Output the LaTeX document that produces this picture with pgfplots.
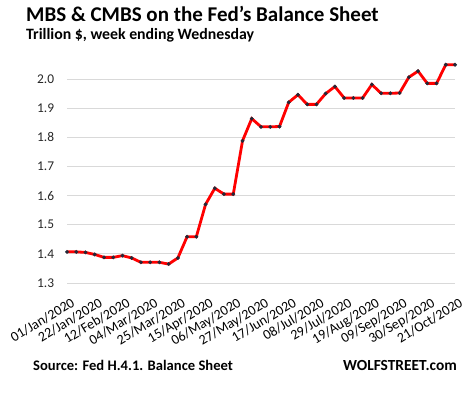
\documentclass[border=0pt]{standalone}
\usepackage{pgfplots}
\pgfplotsset{compat=1.18}
\usepackage{fontspec}
\setmainfont{Carlito}
\definecolor{gridc}{RGB}{217,217,217}
\definecolor{markc}{RGB}{35,40,55}
\begin{document}
\begin{tikzpicture}[x=1bp,y=-1bp]
\path[use as bounding box] (0,0) rectangle (468,394);
\node[anchor=base west,inner sep=0pt,font=\fontsize{21bp}{24bp}\selectfont\bfseries] at (26,21.7) {MBS \& CMBS on the Fed's Balance Sheet};
\node[anchor=base west,inner sep=0pt,font=\fontsize{15.8bp}{18bp}\selectfont\bfseries] at (26,39.3) {Trillion \$, week ending Wednesday};
\node[anchor=base west,inner sep=0pt,font=\fontsize{14.6bp}{16bp}\selectfont\bfseries] at (33,370.7) {Source: Fed H.4.1. Balance Sheet};
\node[anchor=base east,inner sep=0pt,font=\fontsize{15.4bp}{17bp}\selectfont\bfseries] at (457,370.7) {WOLFSTREET.com};
\begin{axis}[
  at={(67bp,-283bp)}, anchor=south west,
  scale only axis, width=388bp, height=224.4bp,
  xmin=0, xmax=42, ymin=1.3, ymax=2.07,
  axis line style={draw=none},
  tick style={draw=none},
  ytick={1.3,1.4,...,2.01},
  yticklabel style={/pgf/number format/fixed,/pgf/number format/fixed zerofill,/pgf/number format/precision=1,font=\fontsize{13.4bp}{15bp}\selectfont, text=black!85, anchor=east, inner sep=0pt, xshift=-12.7bp},
  /pgf/number format/assume math mode=true,
  ymajorgrids, grid style={gridc, line width=1bp},
  xtick={0,3,...,42},
  xticklabels={01/Jan/2020,22/Jan/2020,12/Feb/2020,04/Mar/2020,25/Mar/2020,15/Apr/2020,06/May/2020,27/May/2020,17/Jun/2020,08/Jul/2020,29/Jul/2020,19/Aug/2020,09/Sep/2020,30/Sep/2020,21/Oct/2020},
  xticklabel style={xshift=3.5bp, yshift=-14bp, rotate=31, anchor=north east, font=\fontsize{14bp}{16bp}\selectfont, inner sep=0pt},
  clip=false,
]
\addplot[red, line width=2.8bp, mark=*, mark size=1.8bp, mark options={fill=markc, draw=markc, line width=0.3bp}] coordinates {
(0,1.407)(1,1.407)(2,1.405)(3,1.398)(4,1.388)(5,1.388)(6,1.394)(7,1.386)
(8,1.371)(9,1.371)(10,1.371)(11,1.365)(12,1.386)(13,1.459)(14,1.459)
(15,1.570)(16,1.625)(17,1.605)(18,1.605)(19,1.788)(20,1.864)(21,1.836)
(22,1.836)(23,1.837)(24,1.920)(25,1.946)(26,1.913)(27,1.913)(28,1.950)
(29,1.974)(30,1.935)(31,1.935)(32,1.935)(33,1.981)(34,1.951)(35,1.951)
(36,1.952)(37,2.006)(38,2.027)(39,1.985)(40,1.985)(41,2.049)(42,2.049)
};
\end{axis}
\end{tikzpicture}
\end{document}
